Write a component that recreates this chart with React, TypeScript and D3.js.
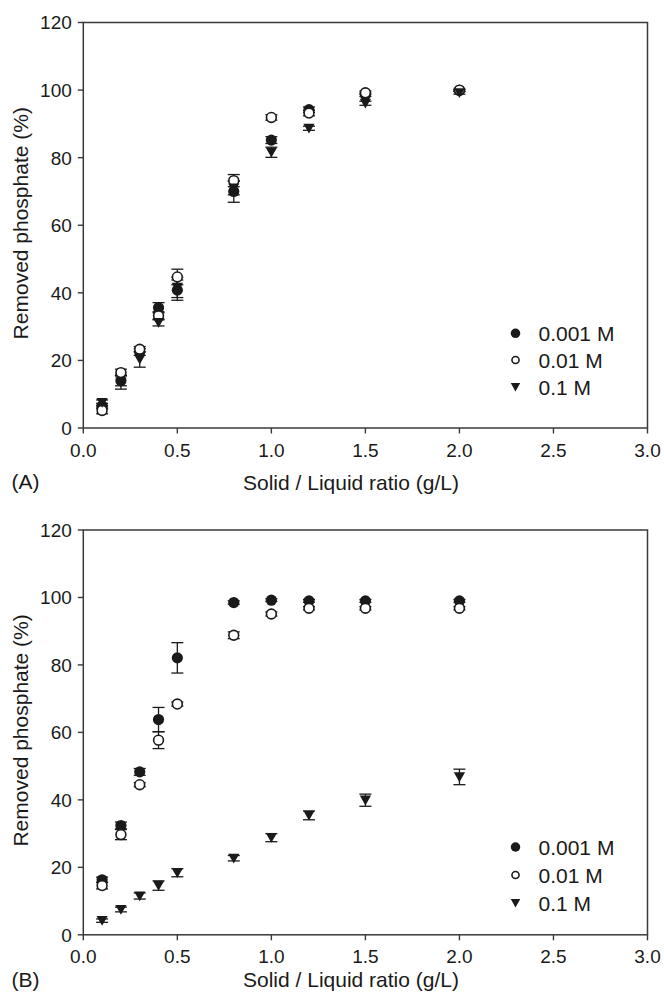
import React from "react";
import * as d3 from "d3";

// ---- data ----
const ratios = [0.1, 0.2, 0.3, 0.4, 0.5, 0.8, 1.0, 1.2, 1.5, 2.0];
const seriesNames = ["0.001 M", "0.01 M", "0.1 M"];
const xTicks = [0, 0.5, 1.0, 1.5, 2.0, 2.5, 3.0];
const yTicks = [0, 20, 40, 60, 80, 100, 120];

// Panel A
const a001 = [6.5, 14.0, 22.5, 35.6, 40.8, 70.0, 85.2, 94.2, 98.6, 99.9];
const a001Err = [0.8, 1.5, 1.0, 1.5, 3.0, 3.2, 1.0, 0.8, 0.5, 0.3];
const a01 = [5.2, 16.4, 23.3, 33.2, 44.7, 73.2, 91.9, 93.2, 99.2, 100.0];
const a01Err = [1.0, 1.0, 0.8, 1.2, 2.3, 1.8, 0.8, 0.8, 0.5, 0.3];
const a1 = [7.5, 13.6, 20.3, 31.2, 41.6, 71.0, 81.6, 88.7, 96.1, 99.2];
const a1Err = [0.8, 2.1, 2.3, 1.0, 3.0, 2.0, 1.5, 0.6, 0.6, 0.4];

// Panel B
const b001 = [16.3, 32.4, 48.3, 63.8, 82.1, 98.5, 99.2, 99.0, 99.0, 99.0];
const b001Err = [0.8, 1.0, 1.0, 3.6, 4.5, 0.5, 0.4, 0.4, 0.4, 0.4];
const b01 = [14.6, 29.7, 44.5, 57.7, 68.4, 88.8, 95.1, 96.8, 96.8, 96.8];
const b01Err = [1.0, 1.5, 0.6, 2.5, 0.6, 1.0, 0.6, 0.5, 0.5, 0.5];
const b1 = [4.2, 7.5, 11.5, 14.6, 18.4, 22.7, 28.8, 35.4, 39.9, 46.8];
const b1Err = [0.5, 0.7, 0.9, 1.4, 1.2, 0.8, 1.2, 1.3, 1.8, 2.3];

const FONT = "'Liberation Sans', Arial, Helvetica, sans-serif";
const INK = "#1a1a1a";
const AXIS = "#3a3a3a";

type Series = { vals: number[]; errs: number[]; kind: "filled" | "open" | "tri" };

function Marker({ kind, x, y, small }: { kind: string; x: number; y: number; small?: boolean }) {
  const s = small ? 0.85 : 1;
  if (kind === "filled") return <circle cx={x} cy={y} r={5.6 * s} fill={INK} />;
  if (kind === "open")
    return <circle cx={x} cy={y} r={4.9 * s * (small ? 0.85 : 1)} fill="#fff" stroke={INK} strokeWidth={1.6} />;
  const w = 5.6 * s;
  const h = 4.6 * s;
  return (
    <path
      d={`M${x - w},${y - h} L${x + w},${y - h} L${x},${y + h + 0.6} Z`}
      fill={INK}
    />
  );
}

function Panel({
  top,
  bottom,
  label,
  series,
  legendYs,
  labelDy,
  titleDy,
  tickDy,
}: {
  top: number;
  bottom: number;
  label: string;
  series: Series[];
  legendYs: number[];
  labelDy: number;
  titleDy: number;
  tickDy: number;
}) {
  const left = 83.3;
  const right = 647.5;
  const x = d3.scaleLinear().domain([0, 3]).range([left, right]);
  const y = d3.scaleLinear().domain([0, 120]).range([bottom, top]);
  const fmtX = d3.format(".1f");
  return (
    <g>
      {/* frame */}
      <rect x={left} y={top} width={right - left} height={bottom - top} fill="none" stroke={AXIS} strokeWidth={1.5} />
      {/* y ticks */}
      {yTicks.map((t) => (
        <g key={"y" + t}>
          <line x1={left - 5.5} x2={left} y1={y(t)} y2={y(t)} stroke={AXIS} strokeWidth={1.4} />
          <text
            x={left - 11.5}
            y={y(t)}
            dy="0.36em"
            textAnchor="end"
            fontFamily={FONT}
            fontSize={19}
            fill={INK}
          >
            {t}
          </text>
        </g>
      ))}
      {/* x ticks */}
      {xTicks.map((t) => (
        <g key={"x" + t}>
          <line x1={x(t)} x2={x(t)} y1={bottom} y2={bottom + 5.5} stroke={AXIS} strokeWidth={1.4} />
          <text
            x={x(t)}
            y={bottom + tickDy}
            dy="0.36em"
            textAnchor="middle"
            fontFamily={FONT}
            fontSize={19}
            fill={INK}
          >
            {fmtX(t)}
          </text>
        </g>
      ))}
      {/* axis titles */}
      <text
        x={351}
        y={bottom + titleDy}
        dy="0.36em"
        textAnchor="middle"
        fontFamily={FONT}
        fontSize={21}
        fill={INK}
      >
        Solid / Liquid ratio (g/L)
      </text>
      <text x={11.5} y={bottom + labelDy} dy="0.36em" fontFamily={FONT} fontSize={21} fill={INK}>
        {label}
      </text>
      <text
        transform={`translate(20.5,${(top + bottom) / 2 - 2}) rotate(-90)`}
        dy="0.36em"
        textAnchor="middle"
        fontFamily={FONT}
        fontSize={21}
        fill={INK}
      >
        Removed phosphate (%)
      </text>
      {/* error bars */}
      {series.map((s, si) =>
        s.vals.map((v, i) => {
          const cx = x(ratios[i]);
          const y1 = y(v + s.errs[i]);
          const y2 = y(v - s.errs[i]);
          return (
            <g key={`e${si}-${i}`} stroke={INK} strokeWidth={1.3}>
              <line x1={cx} x2={cx} y1={y1} y2={y2} />
              <line x1={cx - 6} x2={cx + 6} y1={y1} y2={y1} />
              <line x1={cx - 6} x2={cx + 6} y1={y2} y2={y2} />
            </g>
          );
        })
      )}
      {/* markers */}
      {series.map((s, si) =>
        s.vals.map((v, i) => <Marker key={`m${si}-${i}`} kind={s.kind} x={x(ratios[i])} y={y(v)} />)
      )}
      {/* legend */}
      {series.map((s, si) => (
        <g key={"lg" + si}>
          <Marker kind={s.kind} x={515.5} y={legendYs[si]} small />
          <text x={538.5} y={legendYs[si]} dy="0.36em" fontFamily={FONT} fontSize={21} fill={INK}>
            {seriesNames[si]}
          </text>
        </g>
      ))}
    </g>
  );
}

export default function App() {
  const seriesA: Series[] = [
    { vals: a001, errs: a001Err, kind: "filled" },
    { vals: a01, errs: a01Err, kind: "open" },
    { vals: a1, errs: a1Err, kind: "tri" },
  ];
  const seriesB: Series[] = [
    { vals: b001, errs: b001Err, kind: "filled" },
    { vals: b01, errs: b01Err, kind: "open" },
    { vals: b1, errs: b1Err, kind: "tri" },
  ];
  return (
    <svg
      width={664}
      height={992}
      viewBox="0 0 664 992"
      style={{ position: "absolute", left: 0, top: 0, background: "#fff" }}
    >
      <rect width={664} height={992} fill="#fff" />
      <Panel
        top={22.5}
        bottom={428}
        label="(A)"
        series={seriesA}
        legendYs={[333.3, 360, 387]}
        labelDy={53.7}
        titleDy={54.7}
        tickDy={22}
      />
      <Panel
        top={530}
        bottom={934.8}
        label="(B)"
        series={seriesB}
        legendYs={[847, 875, 903]}
        labelDy={44.5}
        titleDy={44.5}
        tickDy={21}
      />
    </svg>
  );
}
